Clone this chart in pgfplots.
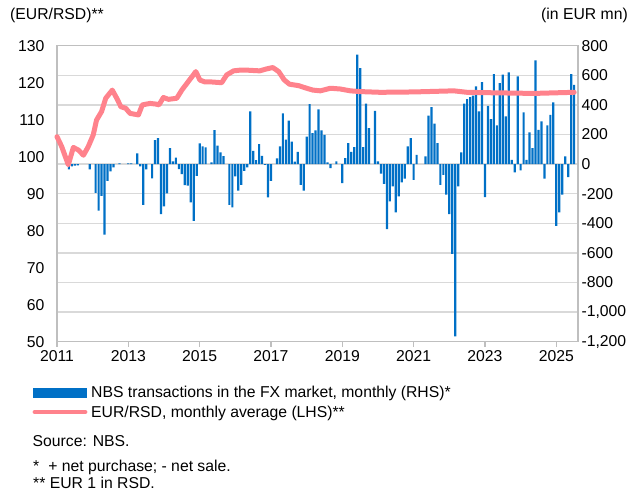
\documentclass[border=0pt]{standalone}
\usepackage{fontspec}
\setmainfont{Liberation Sans}
\usepackage{pgfplots}
\pgfplotsset{compat=1.18}
\definecolor{barblue}{RGB}{0,112,198}
\definecolor{linepink}{RGB}{255,130,140}
\definecolor{gridgray}{RGB}{217,217,217}
\definecolor{framegray}{RGB}{191,191,191}
\newcommand\f{\fontsize{15.8}{19}\selectfont}
\begin{document}
\begin{tikzpicture}
\useasboundingbox (0,0) rectangle (638bp,491bp);
\begin{axis}[
  at={(57bp,149.3bp)}, anchor=south west,
  width=521bp, height=296bp, scale only axis,
  xmin=0, xmax=175.3, ymin=-1200, ymax=800,
  xtick={0,24,...,168},
  xticklabels={2011,2013,2015,2017,2019,2021,2023,2025},
  ytick={-1200,-1000,...,800},
  ymajorgrids, grid style={gridgray, line width=1.3bp},
  axis line style={framegray, line width=1.5bp},
  xtick pos=bottom, ytick pos=right, yticklabel pos=right,
  tick align=outside, major tick length=5bp,
  xtick style={framegray, line width=1.3bp},
  ytick style={draw=none},
  tick label style={font=\f, text=black},
  yticklabel style={xshift=-5bp},
  /pgf/number format/assume math mode=true,
  /pgf/number format/1000 sep={,},
]
\addplot[ybar, bar width=2.2bp, fill=barblue, draw=none] coordinates {
(4,-35) (5,-15) (6,-10) (7,-8) (11,-35)
(13,-195) (14,-315) (15,-214) (16,-477) (17,-113) (18,-50) (19,-22) (21,5)
(24,5) (25,5) (27,72) (28,-15) (29,-275) (30,-36) (32,-97) (33,162) (34,175) (35,-338)
(36,-286) (37,-198) (38,108) (39,18) (40,43) (41,-34) (42,-68) (43,-142) (44,-146) (45,-259) (46,-383) (47,-79)
(48,140) (49,119) (50,113) (52,11) (53,230) (54,124) (55,79) (56,54) (58,-275) (59,-293)
(60,-83) (61,-180) (62,-140) (63,-45) (64,-22) (65,356) (66,90) (67,27) (68,135) (69,56) (70,-5) (71,-225)
(72,-113) (74,38) (75,120) (76,342) (77,165) (78,293) (79,151) (80,16) (81,83) (82,-140) (83,-180)
(84,185) (85,405) (86,210) (87,228) (88,370) (89,227) (90,198) (91,11) (92,-27) (94,18)
(96,-128) (97,40) (98,142) (99,83) (100,115) (101,739) (102,649) (103,115) (104,408) (105,243) (107,360)
(108,18) (109,-65) (110,-133) (111,-439) (112,-252) (113,-151) (114,-327) (115,-218) (116,-124) (117,-99) (118,119) (119,176)
(120,-106) (121,63) (124,52) (125,327) (126,385) (127,273) (128,142) (129,-140) (130,-72) (131,-207)
(132,-338) (133,-606) (134,-1164) (135,-151) (136,79) (137,408) (138,439) (139,453) (140,462) (141,525) (142,356) (143,554)
(144,-223) (145,394) (146,304) (147,608) (148,261) (149,547) (150,604) (151,322) (152,619) (153,29) (154,-56) (155,592)
(156,-43) (157,349) (158,29) (159,214) (160,108) (161,700) (162,232) (163,288) (164,-99) (165,261) (166,333) (167,417)
(168,-417) (169,-327) (170,-207) (171,52) (172,-88) (173,608) (174,536)
};
\end{axis}
\begin{axis}[
  at={(57bp,149.3bp)}, anchor=south west,
  width=521bp, height=296bp, scale only axis,
  xmin=0, xmax=175.3, ymin=50, ymax=130,
  ytick={50,60,...,130},
  hide x axis, axis line style={draw=none},
  ytick pos=left, ytick style={draw=none},
  tick label style={font=\f, text=black},
  yticklabel style={xshift=-9bp},
  /pgf/number format/assume math mode=true,
  clip=false,
]
\addplot[linepink, line width=5bp, line join=round, line cap=round] coordinates {
(0,105.4) (1.6,102.7) (3.8,97.8) (5.5,102.5) (7.2,101.8) (8.9,100.4) (10.5,102.7)
(12.2,105.9) (13.3,109.9) (15,112.2) (16.4,115.8) (18.6,118.0) (20.1,115.8) (21.5,113.5)
(23.1,113.1) (24.6,111.7) (27.4,111.3) (28.7,114.0) (31.3,114.4) (33.5,114.2) (34.3,114.0)
(35.8,116.0) (37.5,115.5) (40.3,115.8) (42,118.0) (43.7,119.8) (45.4,121.6) (46.7,123.0)
(48.1,120.7) (49.8,120.2) (52,120.2) (55.4,120.0) (57.1,122.1) (59.4,123.2) (61.6,123.4)
(63.7,123.4) (68.2,123.2) (70.4,123.7) (72.6,124.1) (74.6,123.0) (76.4,120.8) (78.2,119.6)
(81.3,119.2) (84,118.5) (86.1,118.0) (88.6,117.8) (92,118.5) (95.3,118.3) (98.7,117.8)
(102,117.6) (108.8,117.4) (120,117.5) (133.5,117.8) (138,117.4) (144.7,117.3) (160.4,117.1)
(169.4,117.3) (174,117.4)
};
\end{axis}
\node[anchor=base west, inner sep=0, font=\f] at (10bp,471.5bp) {(EUR/RSD)**};
\node[anchor=base east, inner sep=0, font=\f] at (628bp,471.5bp) {(in EUR mn)};
\fill[barblue] (33.3bp,93.3bp) rectangle (86.7bp,103.3bp);
\draw[linepink, line width=4.8bp, line cap=round] (35bp,79bp) -- (85bp,79bp);
\node[anchor=base west, inner sep=0, font=\f] at (91bp,93.7bp) {NBS transactions in the FX market, monthly (RHS)*};
\node[anchor=base west, inner sep=0, font=\f] at (91bp,73.7bp) {EUR/RSD, monthly average (LHS)**};
\node[anchor=base west, inner sep=0, font=\f] at (32.5bp,44.3bp) {Source: NBS.};
\node[anchor=base west, inner sep=0, font=\f] at (33bp,20bp) {*\hspace{9bp}+ net purchase; - net sale.};
\node[anchor=base west, inner sep=0, font=\f] at (33bp,2.7bp) {** EUR 1 in RSD.};
\end{tikzpicture}
\end{document}
